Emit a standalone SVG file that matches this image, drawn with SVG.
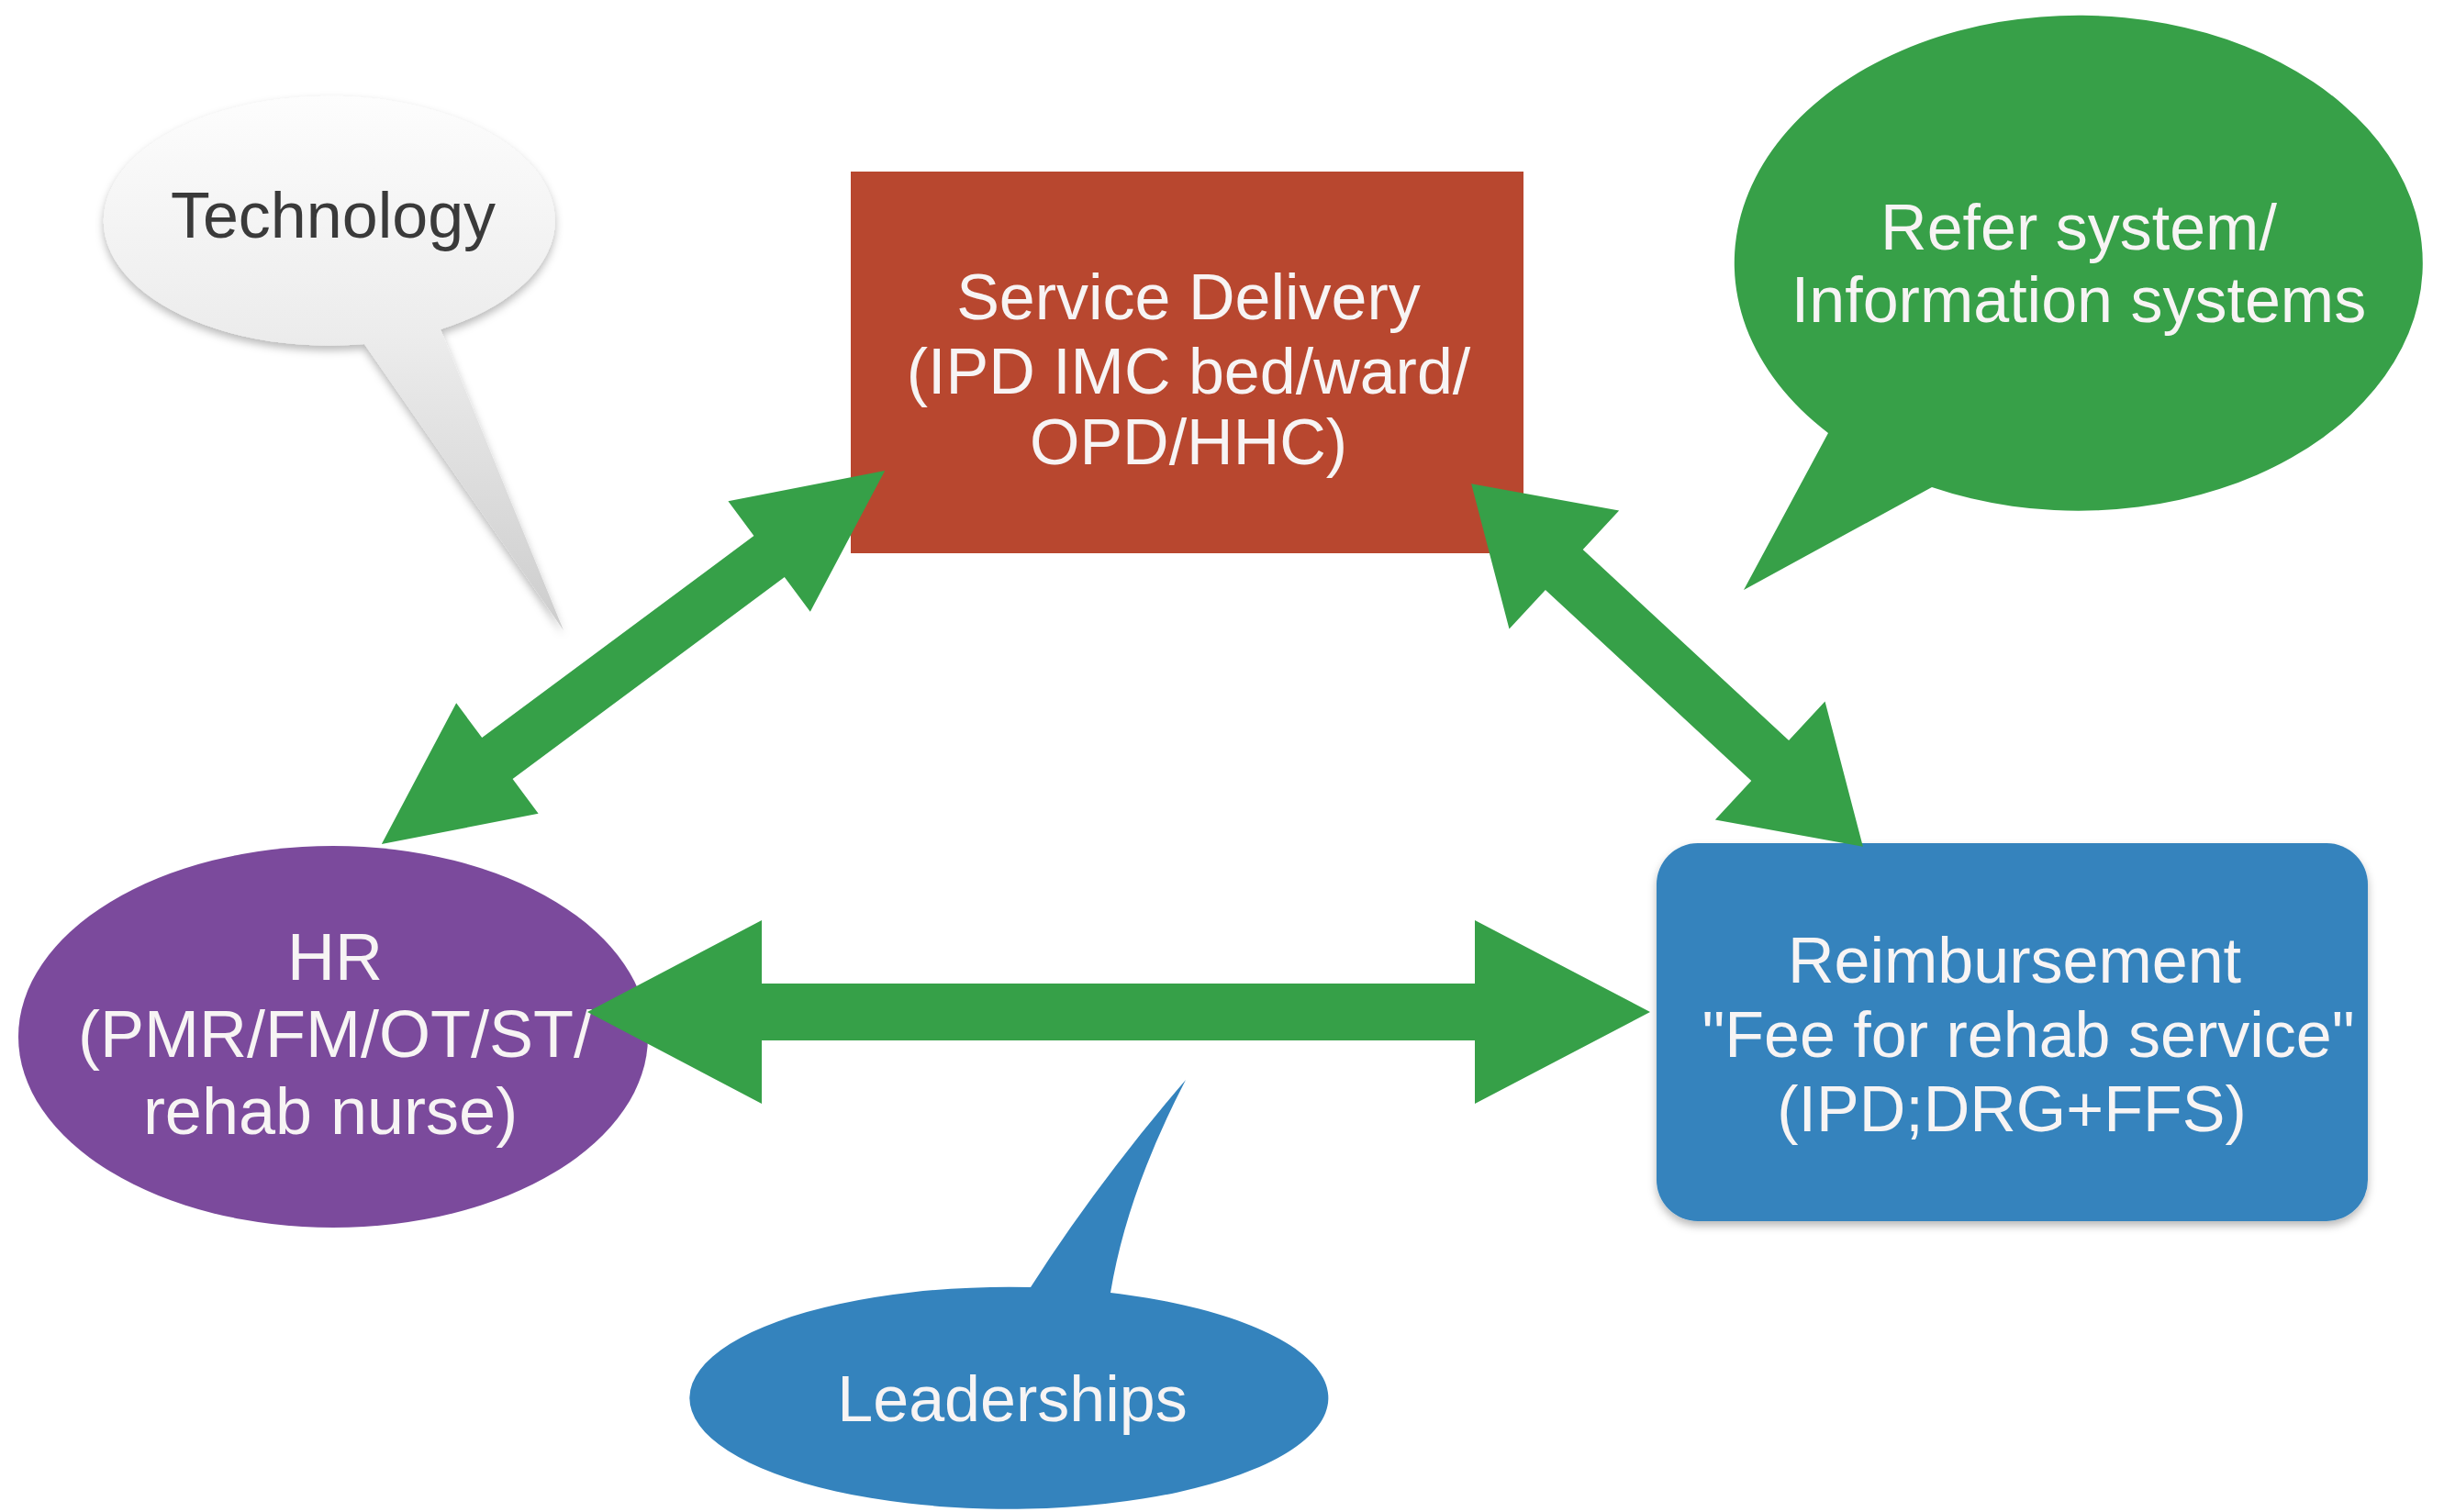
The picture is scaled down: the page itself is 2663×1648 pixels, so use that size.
<svg xmlns="http://www.w3.org/2000/svg" width="2663" height="1648" viewBox="0 0 2663 1648">
  <defs>
    <style>
      .lbl { font-family: "Liberation Sans", Arial, sans-serif; font-size: 70px; fill: #f7f4f4; text-anchor: middle; }
      .dark { fill: #3a3a3a; }
      .arrow { fill: #36a048; }
    </style>
    <linearGradient id="techGrad" x1="0" y1="0" x2="0" y2="1">
      <stop offset="0" stop-color="#fdfdfd"/>
      <stop offset="0.45" stop-color="#ececec"/>
      <stop offset="1" stop-color="#cdcdcd"/>
    </linearGradient>
    <filter id="shadow" x="-10%" y="-10%" width="120%" height="125%">
      <feDropShadow dx="0" dy="5" stdDeviation="5" flood-color="#000" flood-opacity="0.28"/>
    </filter>
  </defs>
  <rect width="2663" height="1648" fill="#ffffff"/>

  <g id="technology">
    <path d="M 397,375 L 614,687 L 480,359 A 246 136 0 1 0 397,375 Z" fill="url(#techGrad)" filter="url(#shadow)"/>
    <text class="lbl dark" x="363" y="259">Technology</text>
  </g>

  <g id="service-delivery">
    <rect x="927" y="187" width="733" height="416" fill="#b8472f"/>
    <text class="lbl" x="1295" y="348">Service Delivery</text>
    <text class="lbl" x="1295" y="429">(IPD IMC bed/ward/</text>
    <text class="lbl" x="1295" y="506">OPD/HHC)</text>
  </g>

  <g id="refer-system">
    <path d="M 1992,472 L 1900,643 L 2105,531 A 375 270 0 1 0 1992,472 Z" fill="#37a048"/>
    <text class="lbl" x="2265" y="272">Refer system/</text>
    <text class="lbl" x="2265" y="351">Information systems</text>
  </g>

  <g id="hr">
    <ellipse cx="363" cy="1130" rx="343" ry="208" fill="#7b4a9c"/>
    <text class="lbl" x="365" y="1068" style="font-size:72px">HR</text>
    <text class="lbl" x="365" y="1152" style="font-size:72px">(PMR/FM/OT/ST/</text>
    <text class="lbl" x="360" y="1236" style="font-size:72px">rehab nurse)</text>
  </g>

  <g id="reimbursement">
    <rect x="1805" y="919" width="775" height="412" rx="45" ry="45" fill="#3483bd" filter="url(#shadow)"/>
    <text class="lbl" x="2195" y="1071">Reimbursement</text>
    <text class="lbl" x="2210" y="1152">"Fee for rehab service"</text>
    <text class="lbl" x="2192" y="1233">(IPD;DRG+FFS)</text>
  </g>

  <g id="leaderships">
    <path d="M 1123,1403 Q 1195,1290 1292,1177 Q 1228,1300 1210,1409 A 348 121 0 1 1 1123,1403 Z" fill="#3483bd"/>
    <text class="lbl" x="1103" y="1549">Leaderships</text>
  </g>

  <g id="connectors">
    <polygon class="arrow" transform="translate(690,716.5) rotate(-36.6)" points="-341.5,0 -184.5,-75 -184.5,-28 184.5,-28 184.5,-75 341.5,0 184.5,75 184.5,28 -184.5,28 -184.5,75"/>
    <polygon class="arrow" transform="translate(1816.5,725) rotate(42.84)" points="-291,0 -153,-88 -153,-30 153,-30 153,-88 291,0 153,88 153,30 -153,30 -153,88"/>
    <polygon class="arrow" points="640,1103 830,1003 830,1072 1607,1072 1607,1003 1798,1103 1607,1203 1607,1134 830,1134 830,1203"/>
  </g>
</svg>
